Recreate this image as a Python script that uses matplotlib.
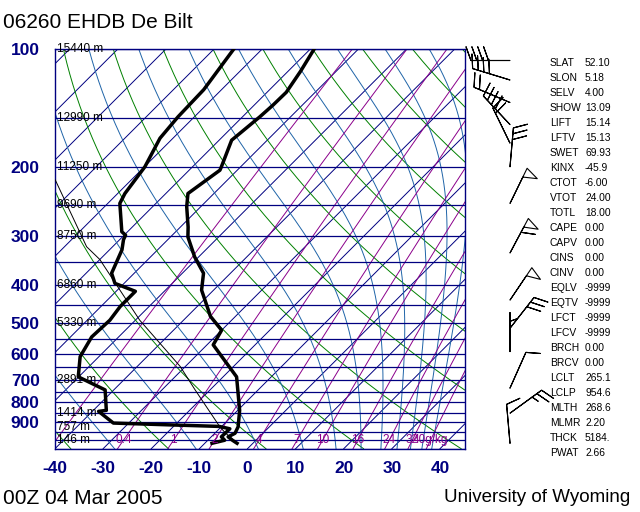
import numpy as np
import matplotlib
matplotlib.use("Agg")
import matplotlib.pyplot as plt
from matplotlib.ticker import FixedLocator, FixedFormatter, NullLocator
import matplotlib.transforms as mtransforms

plt.rcParams['font.family'] = ['Liberation Sans', 'DejaVu Sans']

# ---------------- data ----------------
station_title = "06260 EHDB De Bilt"
time_label = "00Z 04 Mar 2005"
source_label = "University of Wyoming"

temp_p = [1017, 1000, 979, 959, 923, 838, 688, 570, 523, 482, 413, 374, 340,
          302, 285, 253, 234, 204, 200, 171, 149, 139, 129, 114, 100]
temp_t = [-3.3, -4.8, -6.5, -5.8, -6.5, -9.6, -17.2, -28.7, -30.0, -35.2, -42.5,
          -45.6, -50.8, -56.4, -58.4, -62.9, -65.4, -63.6, -64.0, -67.4, -66.4,
          -66.1, -66.0, -67.4, -69.2]

dwpt_p = [1017, 999, 979, 934, 921, 913, 903, 843, 838, 743, 688, 611, 544, 493,
          455, 416, 397, 374, 326, 307, 299, 293, 248, 234, 200, 169, 149, 127, 100]
dwpt_t = [-8.5, -6.5, -7.9, -7.8, -10.5, -20.7, -33.2, -38.7, -37.3, -41.8, -50.1,
          -53.9, -55.6, -55.3, -56.0, -56.0, -61.9, -64.7, -67.4, -69.2, -69.7,
          -71.2, -77.5, -78.5, -79.9, -82.7, -83.4, -83.7, -85.9]

parcel_p = [1017, 954.6, 923, 743, 647, 493, 345, 320, 216]
parcel_t = [-3.3, -8.05, -10.3, -23.1, -31.1, -49.1, -70.0, -75.4, -95.8]

wind_p = [1017, 852, 735, 593, 517, 438, 332, 248, 200, 174, 156, 137, 120, 107]
wind_dir = [355, 54, 24, 0, 38, 34, 28, 26, 5, 334, 317, 293, 287, 270]
wind_spd = [10, 25, 10, 5, 30, 50, 60, 50, 30, 20, 40, 20, 40, 40]

height_p = [100, 150, 200, 250, 300, 400, 500, 700, 850, 925, 1000]
height_lbl = ["15440 m", "12990 m", "11250 m", "9690 m", "8750 m", "6860 m",
              "5330 m", "2891 m", "1414 m", "757 m", "146 m"]

p_ticks = [100, 200, 300, 400, 500, 600, 700, 800, 900]
t_ticks = [-40, -30, -20, -10, 0, 10, 20, 30, 40]

mixr_vals = [0.1, 0.4, 1, 2, 4, 7, 10, 16, 24, 32, 40]
mixr_lbls = ["0.4", "1", "2", "4", "7", "10", "16", "24", "32", "40g/kg"]
mixr_lbl_vals = [0.4, 1, 2, 4, 7, 10, 16, 24, 32, 40]

isotherm_vals = list(range(-150, 50, 10))
dry_theta_c = list(range(-40, 200, 20))
moist_thetae = [243.15 + 20 * k for k in range(11)]

index_names = ["SLAT", "SLON", "SELV", "SHOW", "LIFT", "LFTV", "SWET", "KINX",
               "CTOT", "VTOT", "TOTL", "CAPE", "CAPV", "CINS", "CINV", "EQLV",
               "EQTV", "LFCT", "LFCV", "BRCH", "BRCV", "LCLT", "LCLP", "MLTH",
               "MLMR", "THCK", "PWAT"]
index_vals = ["52.10", "5.18", "4.00", "13.09", "15.14", "15.13", "69.93", "-45.9",
              "-6.00", "24.00", "18.00", "0.00", "0.00", "0.00", "0.00", "-9999",
              "-9999", "-9999", "-9999", "0.00", "0.00", "265.1", "954.6", "268.6",
              "2.20", "5184.", "2.66"]

# ---------------- styles ----------------
NAVY = "#000080"
GREEN = "#008000"
MOIST = "#1f64a8"
PURPLE = "#8b008b"

W, H = 640, 512
L, R, TOP, BOT = 55, 465, 49, 448.7
P_BOT, P_TOP = 1050.0, 100.0
T_LEFT = -40.0
DEG_PX = 4.8125
T_RIGHT = T_LEFT + (R - L) / DEG_PX
K = ((BOT - TOP) / np.log(P_BOT / P_TOP)) / DEG_PX


def sx(t, p):
    return np.asarray(t, float) + K * np.log(P_BOT / np.asarray(p, float))


def es(t):
    return 6.112 * np.exp(17.67 * t / (t + 243.5))


def thetae(t, p):
    e = es(t)
    w = np.where(p - e > 0, 622.0 * e / np.maximum(p - e, 1e-6), 200.0)
    w = np.minimum(w, 200.0)
    tk = t + 273.15
    th = tk * (1000.0 / p) ** (0.2854 * (1 - 0.00028 * w))
    return th * np.exp((3.376 / tk - 0.00254) * w * (1 + 0.00081 * w))


def t_from_w(w, p):
    e = w * p / (622.0 + w)
    a = np.log(e / 6.112)
    return 243.5 * a / (17.67 - a)


fig = plt.figure(figsize=(6.4, 5.12), dpi=100)
ax = fig.add_axes([L / W, 1 - BOT / H, (R - L) / W, (BOT - TOP) / H])
ax.set_yscale('log')
ax.set_ylim(P_BOT, P_TOP)
ax.set_xlim(T_LEFT, T_RIGHT)

pg = np.geomspace(P_BOT, P_TOP, 300)

for t in isotherm_vals:
    ax.plot(sx(np.full_like(pg, t), pg), pg, color=NAVY, lw=0.7, zorder=2)

for th in dry_theta_c:
    tt = (th + 273.15) * (pg / 1000.0) ** 0.2857 - 273.15
    ax.plot(sx(tt, pg), pg, color=GREEN, lw=0.7, zorder=2)

for the in moist_thetae:
    lo = np.full_like(pg, -150.0)
    hi = np.full_like(pg, 60.0)
    for _ in range(60):
        mid = 0.5 * (lo + hi)
        f = thetae(mid, pg) - the
        lo = np.where(f < 0, mid, lo)
        hi = np.where(f >= 0, mid, hi)
    ax.plot(sx(0.5 * (lo + hi), pg), pg, color=MOIST, lw=0.7, zorder=2)

for w in mixr_vals:
    ax.plot(sx(t_from_w(w, pg), pg), pg, color=PURPLE, lw=0.7, zorder=2)

for p in np.arange(100, 1051, 50):
    ax.axhline(p, color=NAVY, lw=0.9, zorder=3)

ax.plot(sx(parcel_t, parcel_p), parcel_p, color='black', lw=0.7, zorder=4)
ax.plot(sx(temp_t, temp_p), temp_p, color='black', lw=2.5, zorder=5,
        solid_joinstyle='round')
ax.plot(sx(dwpt_t, dwpt_p), dwpt_p, color='black', lw=2.5, zorder=5,
        solid_joinstyle='round')

trans = mtransforms.blended_transform_factory(ax.transAxes, ax.transData)
for p, lab in zip(height_p, height_lbl):
    ax.text(0.004, p, lab, transform=trans, ha='left', va='center',
            fontsize=8.5, color='black', zorder=6)

for w, lab in zip(mixr_lbl_vals, mixr_lbls):
    ax.text(float(sx(t_from_w(w, 1000.0), 1000.0)), 1000, lab, ha='center',
            va='center', fontsize=8.5, color=PURPLE, zorder=6)

ax.yaxis.set_major_locator(FixedLocator(p_ticks))
ax.yaxis.set_major_formatter(FixedFormatter([str(p) for p in p_ticks]))
ax.yaxis.set_minor_locator(NullLocator())
ax.set_xticks(t_ticks)
ax.set_xticklabels([str(t) for t in t_ticks])
ax.tick_params(axis='both', length=0, labelsize=12.5, labelcolor=NAVY)
ax.tick_params(axis='y', pad=11)
ax.tick_params(axis='x', pad=9)
for lab in ax.get_xticklabels() + ax.get_yticklabels():
    lab.set_fontweight('bold')
for s in ax.spines.values():
    s.set_color(NAVY)
    s.set_linewidth(1.0)

# wind barbs
axw = fig.add_axes([470 / W, 1 - BOT / H, 70 / W, (BOT - TOP) / H])
axw.set_yscale('log')
axw.set_ylim(P_BOT, P_TOP)
axw.set_xlim(0, 1)
axw.axis('off')
d = np.deg2rad(np.array(wind_dir, float))
s = np.array(wind_spd, float)
u = -s * np.sin(d)
v = -s * np.cos(d)
axw.barbs(np.full(len(wind_p), 40 / 70), wind_p, u, v, length=7.5, pivot='tip',
          barbcolor='black', flagcolor='none', linewidth=0.8,
          sizes=dict(spacing=0.15, height=0.35, width=0.25), clip_on=False)

# indices
for i, (n, v_) in enumerate(zip(index_names, index_vals)):
    y = 1 - (63.3 + 15.0 * i) / H
    fig.text(550 / W, y, n, ha='left', va='center', fontsize=7.4)
    fig.text(585 / W, y, v_, ha='left', va='center', fontsize=7.4)

fig.text(3 / W, 1 - 22 / H, station_title, ha='left', va='center', fontsize=15)
fig.text(3 / W, 1 - 498 / H, time_label, ha='left', va='center', fontsize=15)
fig.text(630 / W, 1 - 498 / H, source_label, ha='right', va='center', fontsize=13.5)

fig.savefig("out.png", dpi=100)
